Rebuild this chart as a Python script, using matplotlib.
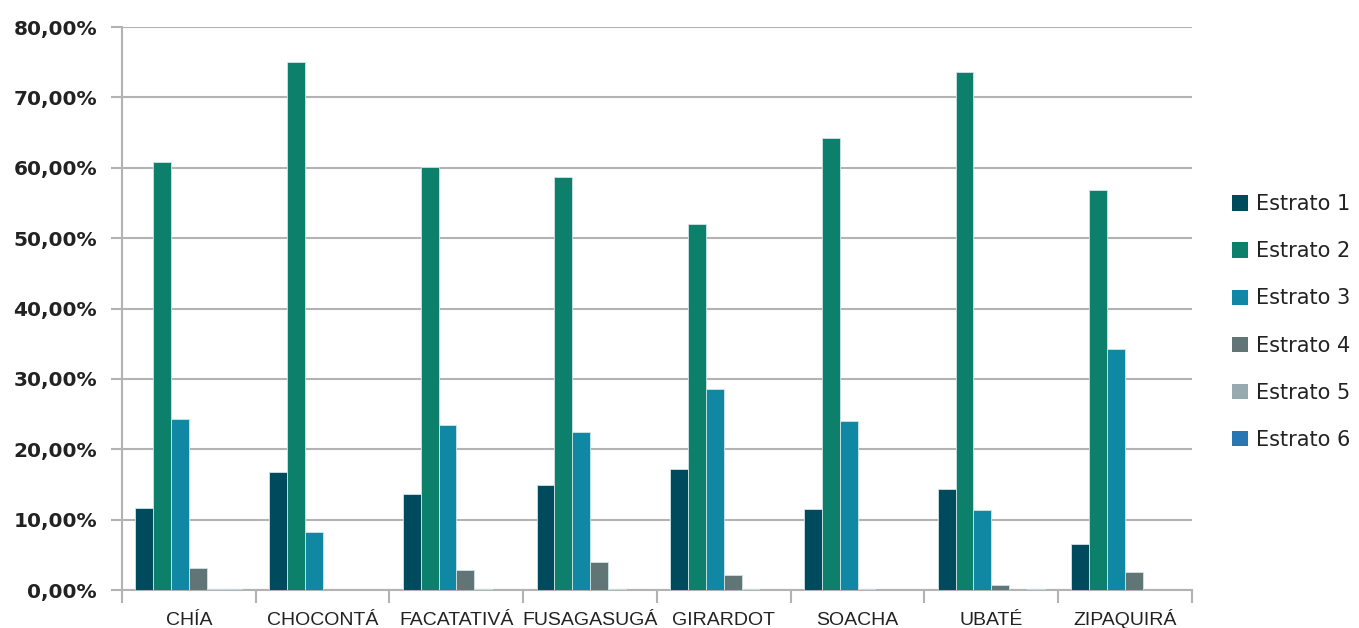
import matplotlib
matplotlib.use("Agg")
import matplotlib.pyplot as plt
import numpy as np
from matplotlib.ticker import FixedLocator, FuncFormatter

categories = ["CHÍA", "CHOCONTÁ", "FACATATIVÁ", "FUSAGASUGÁ", "GIRARDOT", "SOACHA", "UBATÉ", "ZIPAQUIRÁ"]
series_names = ["Estrato 1", "Estrato 2", "Estrato 3", "Estrato 4", "Estrato 5", "Estrato 6"]
estrato1 = [11.6, 16.7, 13.7, 14.9, 17.2, 11.5, 14.3, 6.5]
estrato2 = [60.8, 75.0, 60.1, 58.7, 52.0, 64.2, 73.6, 56.8]
estrato3 = [24.3, 8.3, 23.4, 22.5, 28.5, 24.0, 11.4, 34.2]
estrato4 = [3.1, 0.0, 2.8, 4.0, 2.1, 0.15, 0.7, 2.6]
estrato5 = [0.12, 0.0, 0.1, 0.1, 0.15, 0.0, 0.0, 0.0]
estrato6 = [0.1, 0.0, 0.05, 0.05, 0.05, 0.0, 0.15, 0.0]
y_ticks = [0, 10, 20, 30, 40, 50, 60, 70, 80]

values = [estrato1, estrato2, estrato3, estrato4, estrato5, estrato6]
colors = ["#004A5E", "#0C806A", "#1188A3", "#627576", "#96AAAF", "#2677B4"]

fig = plt.figure(figsize=(13.59, 6.28), dpi=100)
ax = fig.add_axes([0.0898, 0.0605, 0.7872, 0.8965])

n = len(series_names)
group_w = 0.8
bw = group_w / n
x = np.arange(len(categories))
for i, (name, vals) in enumerate(zip(series_names, values)):
    pos = x - group_w / 2 + bw * (i + 0.5)
    ax.bar(pos, vals, width=bw, color=colors[i], edgecolor="#cfe6e6", linewidth=0.6,
           label=name, zorder=3)

ax.set_xlim(-0.5, len(categories) - 0.5)
ax.set_ylim(0, 80)
ax.yaxis.set_major_locator(FixedLocator(y_ticks))
ax.yaxis.set_major_formatter(FuncFormatter(lambda v, p: f"{v:.2f}".replace(".", ",") + "%"))
ax.grid(axis="y", color="#b3b3b3", linewidth=1.5, zorder=0)
ax.set_axisbelow(True)

for s in ["top", "right"]:
    ax.spines[s].set_visible(False)
for s in ["left", "bottom"]:
    ax.spines[s].set_color("#b3b3b3")
    ax.spines[s].set_linewidth(1.5)

ax.tick_params(axis="y", length=8, width=1.5, color="#b3b3b3", pad=10,
               labelsize=14.5, labelcolor="#222222")
for lab in ax.get_yticklabels():
    lab.set_fontweight("bold")

ax.set_xticks(np.arange(-0.5, len(categories), 1.0))
ax.set_xticklabels([])
ax.set_xticks(x, minor=True)
ax.set_xticklabels(categories, minor=True, family=["Liberation Sans", "DejaVu Sans"],
                   fontsize=14, color="#222222", va="baseline")
ax.tick_params(axis="x", which="major", length=9, width=1.5, color="#b3b3b3")
ax.tick_params(axis="x", which="minor", length=0, pad=25)

leg = ax.legend(loc="center left", bbox_to_anchor=(1.038, 0.476), frameon=False,
                fontsize=15, handlelength=0.75, handleheight=0.75, handletextpad=0.4,
                labelspacing=1.3, borderaxespad=0, borderpad=0)
for t in leg.get_texts():
    t.set_color("#222222")
for h in leg.legend_handles:
    h.set_edgecolor("none")

fig.savefig("out.png", dpi=100)
